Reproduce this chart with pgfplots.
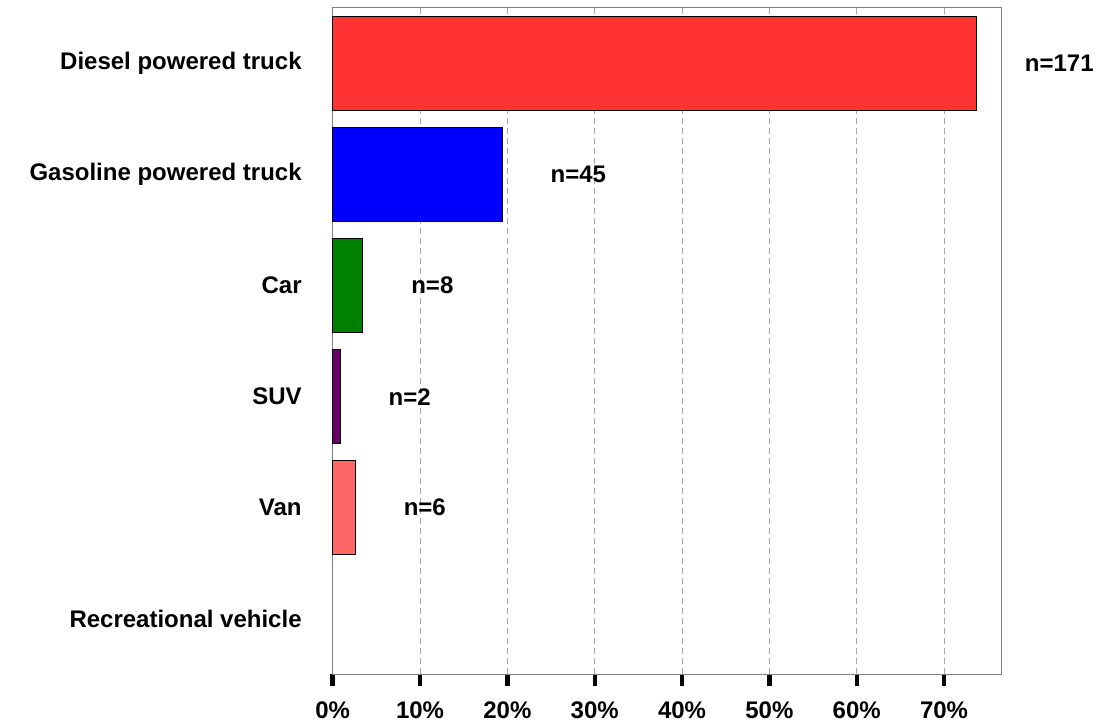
\documentclass[border=0pt]{standalone}
\usepackage{fontspec}
\setmainfont{Liberation Sans}
\usepackage{pgfplots}
\pgfplotsset{compat=1.18}

\definecolor{barred}{HTML}{FF3333}
\definecolor{barblue}{HTML}{0000FF}
\definecolor{bargreen}{HTML}{008000}
\definecolor{barpurple}{HTML}{660066}
\definecolor{barsalmon}{HTML}{FF6666}
\definecolor{framegray}{HTML}{808080}

\begin{document}
\begin{tikzpicture}
    % categories top to bottom: 5 = Diesel ... 0 = Recreational vehicle
    \begin{axis}[
        at={(0,0)}, anchor=south west,
        width=334.5pt, height=333.2pt,
        scale only axis,
        xbar, bar shift=0pt, bar width=0.85,
        xmin=0, xmax=76.6,
        ymin=-0.5, ymax=5.5,
        xtick={0,10,20,30,40,50,60,70},
        xticklabels={0\%,10\%,20\%,30\%,40\%,50\%,60\%,70\%},
        ytick={0,1,2,3,4,5},
        yticklabels={Recreational vehicle, Van, SUV, Car, Gasoline powered truck, Diesel powered truck},
        font=\bfseries\fontsize{12}{14}\selectfont,
        axis line style={framegray, line width=0.5pt},
        xtick pos=bottom,
        tick align=outside,
        major tick length=6pt,
        xtick style={black, line width=2.2pt},
        ytick style={draw=none},
        xticklabel style={yshift=-4pt},
        yticklabel style={xshift=-6pt},
        xmajorgrids,
        grid style={gray!70, line width=0.5pt, dash pattern=on 3pt off 2pt},
        point meta=explicit symbolic,
        nodes near coords,
        every node near coord/.append style={anchor=west, inner sep=0pt, xshift=24pt,
            font=\bfseries\fontsize{12}{14}\selectfont, text=black},
        clip=false,
    ]
        \addplot[fill=barred, draw=black, line width=0.5pt] coordinates {(73.7,5) [n=171]};
        \addplot[fill=barblue, draw=black, line width=0.5pt] coordinates {(19.4,4) [n=45]};
        \addplot[fill=bargreen, draw=black, line width=0.5pt] coordinates {(3.45,3) [n=8]};
        \addplot[fill=barpurple, draw=black, line width=0.5pt] coordinates {(0.86,2) [n=2]};
        \addplot[fill=barsalmon, draw=black, line width=0.5pt] coordinates {(2.59,1) [n=6]};
    \end{axis}
    \pgfresetboundingbox
    \path (-166.35pt,-24.35pt) rectangle (382.15pt,337.15pt);
\end{tikzpicture}
\end{document}
